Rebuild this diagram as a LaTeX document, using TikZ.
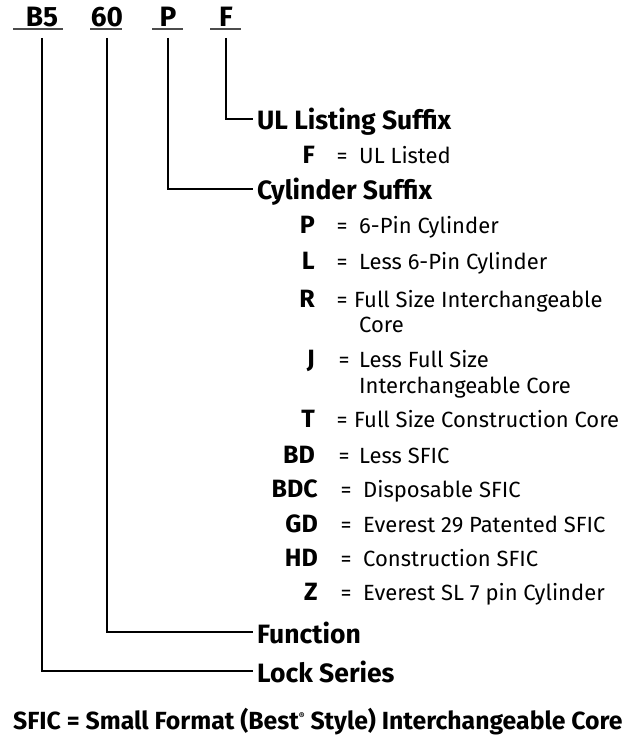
\documentclass[tikz,border=0pt]{standalone}
\usepackage{fontspec}
\setmainfont{Fira Sans}
\begin{document}
\begin{tikzpicture}[x=1pt,y=-1pt,
  ln/.style={line width=2.7pt},
  ul/.style={line width=2.4pt, black!70},
  hdr/.style={font=\fontsize{28}{31}\selectfont\bfseries, inner sep=0pt, anchor=base},
  lbl/.style={font=\fontsize{26.5}{28}\selectfont\bfseries, inner xsep=4pt, inner ysep=0pt, anchor=base west},
  code/.style={font=\fontsize{25}{25}\selectfont\bfseries, inner sep=0pt, anchor=base east},
  eq/.style={font=\fontsize{22}{25}\selectfont, inner sep=0pt, anchor=base},
  txt/.style={font=\fontsize{22}{25}\selectfont, inner sep=0pt, anchor=base west},
  note/.style={font=\fontsize{24.8}{27}\selectfont\bfseries, inner sep=0pt, anchor=base west}]
\useasboundingbox (0,0) rectangle (634,738);
% header
\node[hdr] (hB5) at (42,27) {B5};
\node[hdr] (h60) at (107,27) {60};
\node[hdr] (hP) at (168,27) {P};
\node[hdr] (hF) at (226,27) {F};
\draw[ul] (13,29) -- (63,29);
\draw[ul] (90,29) -- (122,29);
\draw[ul] (152,29) -- (183,29);
\draw[ul] (210,29) -- (241,29);
% labels
\node[lbl] (lUL) at (253,130) {UL Listing Suffix};
\node[lbl] (lCyl) at (253,200) {Cylinder Suffix};
\node[lbl] (lFun) at (253,643) {Function};
\node[lbl] (lLock) at (253,682) {Lock Series};
% connectors
\draw[ln] ([yshift=-11pt]hF.base) |- ([yshift=11pt]lUL.base west);
\draw[ln] ([yshift=-11pt]hP.base) |- ([yshift=11pt]lCyl.base west);
\draw[ln] ([yshift=-11pt]h60.base) |- ([yshift=11pt]lFun.base west);
\draw[ln] ([yshift=-11pt]hB5.base) |- ([yshift=11pt]lLock.base west);
% items
\node[code] (cF) at (315,164) {F};
\node[eq] (eF) at (342,164) {=};
\node[txt] (tF) at (359,164) {UL Listed};
\node[code] (cP) at (315,233) {P};
\node[eq] (eP) at (342,233) {=};
\node[txt] (tP) at (359,233) {6-Pin Cylinder};
\node[code] (cL) at (315,269) {L};
\node[eq] (eL) at (342,269) {=};
\node[txt] (tL) at (359,269) {Less 6-Pin Cylinder};
\node[code] (cR) at (315,307) {R};
\node[eq] (eR) at (342,307) {=};
\node[txt] (tR) at (354,307) {Full Size Interchangeable};
\node[txt] (tR2) at (359,332) {Core};
\node[code] (cJ) at (315,367) {J};
\node[eq] (eJ) at (344,367) {=};
\node[txt] (tJ) at (359,367) {Less Full Size};
\node[txt] (tJ2) at (359,393) {Interchangeable Core};
\node[code] (cT) at (315,427) {T};
\node[eq] (eT) at (342,427) {=};
\node[txt] (tT) at (354,427) {Full Size Construction Core};
\node[code] (cBD) at (315,463) {BD};
\node[eq] (eBD) at (344,463) {=};
\node[txt] (tBD) at (359,463) {Less SFIC};
\node[code] (cBDC) at (318,497) {BDC};
\node[eq] (eBDC) at (346,497) {=};
\node[txt] (tBDC) at (363,497) {Disposable SFIC};
\node[code] (cGD) at (318,532) {GD};
\node[eq] (eGD) at (346,532) {=};
\node[txt] (tGD) at (363,532) {Everest 29 Patented SFIC};
\node[code] (cHD) at (318,566) {HD};
\node[eq] (eHD) at (346,566) {=};
\node[txt] (tHD) at (363,566) {Construction SFIC};
\node[code] (cZ) at (318,600) {Z};
\node[eq] (eZ) at (346,600) {=};
\node[txt] (tZ) at (363,600) {Everest SL 7 pin Cylinder};
% note
\node[note] (nSFIC) at (13,729) {SFIC = Small Format (Best\raisebox{0.7ex}{\fontsize{9}{9}\selectfont\textregistered} Style) Interchangeable Core};
\end{tikzpicture}
\end{document}
